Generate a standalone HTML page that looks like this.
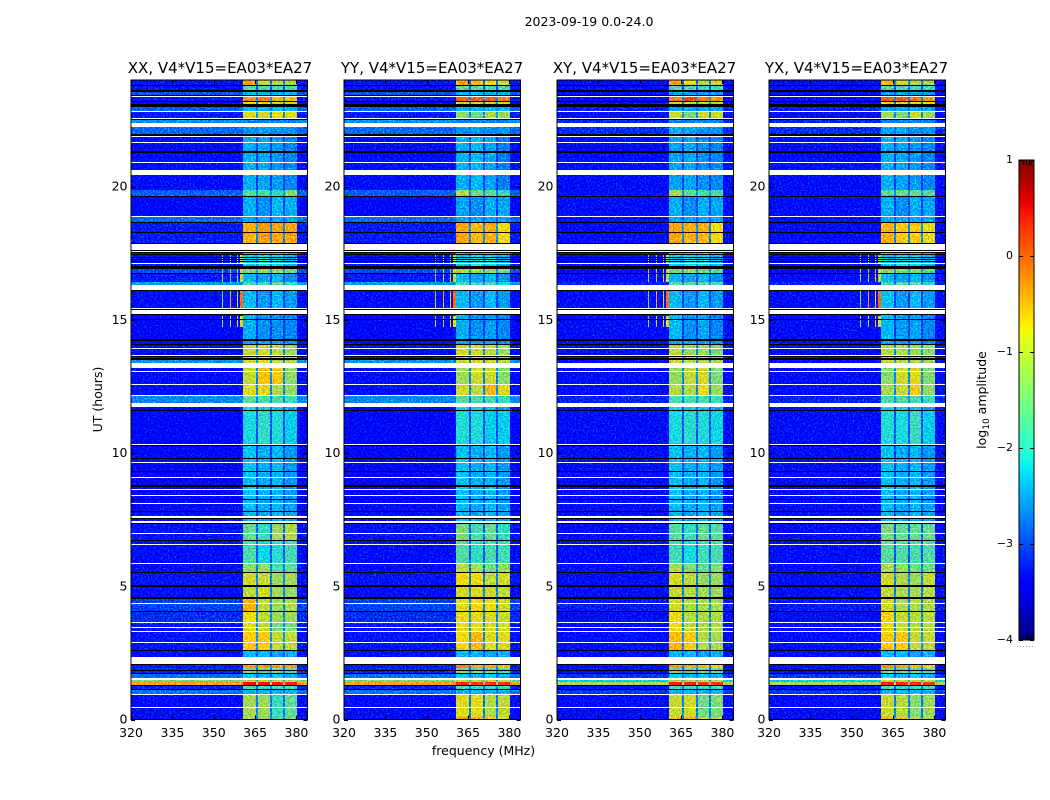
<!DOCTYPE html>
<html lang="en">
<head>
<meta charset="utf-8">
<title>2023-09-19 0.0-24.0</title>
<style>
html,body{margin:0;padding:0;background:#fff;width:1050px;height:800px;overflow:hidden}
svg{display:block}
text{font-family:"DejaVu Sans","Liberation Sans",sans-serif;fill:#000}
</style>
</head>
<body>
<svg id="figure" xmlns="http://www.w3.org/2000/svg" width="1050" height="800" viewBox="0 0 1050 800">
  <defs>
    <filter id="speckle" x="0" y="0" width="1" height="1" color-interpolation-filters="sRGB">
      <feTurbulence type="fractalNoise" baseFrequency="0.6" numOctaves="2" seed="4" result="n"/>
      <feColorMatrix in="n" type="matrix" values="0 0 0 0 0.5  2.2 0 0 0 -0.84  0 1.2 0 0 -0.1  0 0 0 0 1" result="m"/>
      <feComposite in="SourceGraphic" in2="m" operator="arithmetic" k1="0" k2="1" k3="0.6" k4="-0.3"/>
    </filter>
    <linearGradient id="jet-gradient" x1="0" y1="1" x2="0" y2="0"></linearGradient>
  </defs>
  <rect width="1050" height="800" fill="#fff"/>
  <text x="589" y="26" font-size="12.5" text-anchor="middle">2023-09-19 0.0-24.0</text>
  <text x="483.5" y="755" font-size="12.5" text-anchor="middle">frequency (MHz)</text>
  <text transform="translate(102 399.5) rotate(-90)" font-size="12.5" text-anchor="middle">UT (hours)</text>
  <text transform="translate(986 400) rotate(-90)" font-size="12.5" text-anchor="middle">log<tspan font-size="9" dy="3">10</tspan><tspan dy="-3"> amplitude</tspan></text>
  <g id="panels"></g>
  <g id="colorbar"></g>
</svg>
<script>
// Chart data. Times are UT hours, frequencies MHz, levels log10 amplitude.
const panelTitles = ['XX, V4*V15=EA03*EA27', 'YY, V4*V15=EA03*EA27', 'XY, V4*V15=EA03*EA27', 'YX, V4*V15=EA03*EA27'];
const freqTicks = [320, 335, 350, 365, 380];
const timeTicks = [0, 5, 10, 15, 20];
const colorbarTicks = [1, 0, -1, -2, -3, -4];
const bandStart = [360.6, 366.0, 371.1, 375.8];
const bandEnd = [365.3, 370.4, 375.1, 380.1];
const eraEdges = [24.00,23.80,23.60,23.42,23.20,23.00,22.83,22.54,22.22,21.98,19.87,19.62,18.86,18.62,17.85,17.00,16.75,16.43,16.12,15.46,14.19,14.05,13.65,13.49,13.19,12.59,12.14,11.89,11.58,10.30,8.00,7.34,6.70,5.85,5.55,5.00,4.55,4.04,3.60,3.30,2.61,2.36,2.14,1.95,1.70,1.54,1.41,1.31,1.11,0.96,0.10,0];
const parallelBackground = [-3.15,-3.15,-2.8,-3.15,-3.25,-2.75,-3.1,-2.5,-2.7,-3.2,-2.75,-3.25,-2.7,-3.1,-3.15,-2.85,-3.1,-2.45,-3.2,-3.25,-3.25,-3.2,-3.2,-2.5,-3.2,-3.2,-2.55,-3.25,-3.25,-3.25,-3.2,-3.15,-3.2,-3.2,-3.15,-3.2,-2.9,-3.0,-3.15,-3.15,-3.2,-3.05,-3.1,-3.05,-2.65,-1.6,-0.5,-3.05,-2.65,-3.2,-3.2];
const crossBackground = [-3.2,-3.2,-3.2,-3.2,-3.2,-3.05,-3.2,-3.05,-3.0,-3.2,-3.2,-3.2,-3.2,-3.2,-3.2,-3.2,-3.2,-3.05,-3.2,-3.2,-3.2,-3.2,-3.2,-3.2,-3.2,-3.2,-3.05,-3.2,-3.2,-3.2,-3.2,-3.2,-3.2,-3.2,-3.2,-3.2,-3.1,-3.2,-3.2,-3.2,-3.2,-3.2,-3.2,-3.2,-2.95,-2.2,-1.2,-3.2,-2.95,-3.2,-3.2];
const gapLevels = [-2.6,-2.8,-2.7,-2.5,-2.6,-2.6,-2.5,-2.6,-2.6,-2.9,-2.5,-2.9,-2.7,-2.5,-2.5,-2.4,-2.85,-2.5,-2.9,-2.9,-2.9,-2.5,-2.5,-2.5,-2.55,-2.55,-2.5,-2.85,-2.8,-2.9,-2.9,-2.75,-2.8,-2.6,-2.55,-2.55,-2.55,-2.55,-2.55,-2.5,-2.8,-2.7,-2.4,-2.6,-2.7,-2.2,-1.2,-2.6,-2.7,-2.6,-2.5];
const xxSignal = [
[-0.5,-1.1,-1.2,-1.3],[-1.7,-1.8,-1.8,-1.8],[-2.3,-2.3,-2.3,-2.3],[-0.4,-0.3,-0.6,-0.6],[-0.8,-0.8,-0.9,-0.9],[-2.3,-2.3,-2.3,-2.3],[-0.9,-1.0,-0.8,-0.9],[-2.55,-2.55,-2.55,-2.55],[-2.5,-2.45,-2.5,-2.5],[-2.35,-2.4,-2.45,-2.55],
[-1.8,-1.8,-2.0,-1.5],[-2.35,-2.5,-2.3,-2.35],[-2.4,-2.4,-2.4,-2.4],[-0.55,-0.45,-0.5,-0.5],[-2.2,-2.0,-2.1,-2.3],[-1.5,-1.3,-1.3,-1.6],[-2.3,-2.4,-2.3,-2.5],[-1.9,-1.9,-1.6,-2.0],[-2.3,-2.45,-2.3,-2.45],[-2.35,-2.5,-2.5,-2.55],
[-2.4,-2.4,-2.4,-2.5],[-1.1,-1.0,-1.1,-1.3],[-0.9,-0.85,-1.05,-1.2],[-1.0,-0.9,-1.0,-1.1],[-1.1,-0.65,-0.7,-1.4],[-0.9,-0.85,-1.2,-1.35],[-1.7,-1.8,-1.8,-1.9],[-2.15,-2.2,-2.25,-2.4],[-2.1,-1.95,-2.05,-2.2],[-2.25,-2.35,-2.3,-2.45],
[-2.3,-2.4,-2.3,-2.4],[-1.65,-1.9,-1.3,-1.2],[-1.8,-2.15,-2.0,-1.85],[-1.35,-1.3,-1.75,-1.6],[-1.0,-1.05,-1.3,-1.25],[-1.1,-1.0,-1.25,-1.35],[-0.55,-1.1,-1.3,-1.2],[-0.8,-1.1,-1.3,-1.3],[-0.9,-1.1,-1.45,-1.5],[-0.7,-0.7,-1.05,-1.05],
[-2.3,-2.3,-2.4,-2.35],[-2.3,-2.3,-2.3,-2.3],[-0.4,-0.4,-0.45,-0.45],[-1.5,-1.6,-1.6,-1.7],[-2.2,-2.3,-2.2,-2.3],[-1.2,-1.2,-1.2,-1.2],[0.45,0.35,0.25,0.25],[-1.8,-1.9,-1.9,-1.9],[-2.3,-2.3,-2.3,-2.3],[-1.25,-1.3,-1.9,-1.65],[-1.2,-1.3,-1.8,-1.6]];
const yySignal = [
[-0.5,-0.6,-0.8,-1.0],[-1.7,-1.7,-1.8,-1.8],[-2.3,-2.3,-2.3,-2.3],[-0.1,-0.1,-0.1,-0.3],[-1.0,-1.0,-1.0,-1.0],[-2.3,-2.3,-2.3,-2.3],[-1.4,-1.6,-1.2,-1.3],[-2.55,-2.55,-2.55,-2.55],[-2.5,-2.45,-2.5,-2.5],[-2.35,-2.3,-2.4,-2.6],
[-1.2,-1.6,-1.7,-1.9],[-2.4,-2.5,-2.35,-2.4],[-2.4,-2.4,-2.4,-2.4],[-0.5,-0.6,-0.55,-0.8],[-2.2,-2.0,-2.1,-2.3],[-1.2,-1.2,-1.3,-1.5],[-2.3,-2.4,-2.3,-2.5],[-1.8,-2.0,-1.8,-2.1],[-2.3,-2.45,-2.3,-2.45],[-2.35,-2.5,-2.45,-2.55],
[-2.4,-2.4,-2.4,-2.5],[-1.0,-1.0,-1.1,-1.3],[-1.1,-0.9,-1.0,-1.3],[-1.0,-0.9,-1.0,-1.1],[-1.3,-1.0,-1.0,-1.4],[-1.0,-1.1,-0.6,-0.9],[-1.7,-1.8,-1.8,-1.9],[-2.15,-2.2,-2.25,-2.4],[-2.05,-2.05,-2.2,-2.2],[-2.25,-2.35,-2.3,-2.45],
[-2.3,-2.4,-2.3,-2.4],[-1.5,-1.8,-1.6,-1.9],[-1.75,-1.95,-1.8,-1.85],[-1.1,-1.2,-1.5,-1.3],[-0.8,-0.8,-1.1,-1.0],[-0.95,-0.9,-1.0,-1.1],[-0.9,-0.75,-0.8,-1.0],[-0.85,-0.85,-0.9,-1.05],[-0.85,-0.85,-0.95,-1.0],[-0.8,-0.6,-0.9,-0.9],
[-2.3,-2.3,-2.4,-2.35],[-2.3,-2.3,-2.3,-2.3],[-0.3,-0.5,-0.5,-0.6],[-1.5,-1.6,-1.6,-1.7],[-2.2,-2.3,-2.2,-2.3],[-1.2,-1.2,-1.2,-1.2],[0.2,0.1,0.1,0.1],[-1.8,-1.9,-1.9,-1.9],[-2.3,-2.3,-2.3,-2.3],[-0.9,-0.85,-1.2,-1.1],[-0.5,-0.5,-0.7,-0.9]];
const xySignal = [
[-0.5,-0.8,-1.2,-1.0],[-1.8,-1.8,-1.9,-1.9],[-2.4,-2.4,-2.4,-2.4],[-0.3,0.0,-0.3,-0.4],[-1.0,-1.0,-1.0,-1.0],[-2.4,-2.4,-2.4,-2.4],[-1.0,-1.5,-1.0,-1.0],[-2.55,-2.55,-2.55,-2.55],[-2.35,-2.4,-2.5,-2.5],[-2.4,-2.4,-2.5,-2.55],
[-1.3,-1.7,-1.8,-1.8],[-2.35,-2.5,-2.35,-2.4],[-2.4,-2.4,-2.4,-2.4],[-0.5,-0.55,-0.55,-0.8],[-2.2,-2.1,-2.1,-2.3],[-1.5,-1.3,-1.5,-1.7],[-2.3,-2.4,-2.3,-2.5],[-1.7,-1.7,-1.7,-1.9],[-2.3,-2.45,-2.3,-2.45],[-2.3,-2.5,-2.4,-2.55],
[-2.4,-2.4,-2.4,-2.5],[-1.1,-1.3,-1.3,-1.5],[-0.95,-1.2,-1.2,-1.4],[-1.0,-1.1,-1.1,-1.2],[-1.35,-1.1,-0.95,-1.5],[-1.15,-1.15,-0.8,-1.3],[-1.8,-1.8,-1.8,-1.9],[-2.15,-2.2,-2.25,-2.4],[-2.1,-2.0,-2.05,-2.15],[-2.25,-2.35,-2.3,-2.45],
[-2.3,-2.4,-2.3,-2.4],[-1.7,-1.9,-1.6,-1.7],[-1.85,-2.1,-1.85,-1.8],[-1.2,-1.4,-1.6,-1.4],[-0.95,-1.1,-1.35,-1.3],[-1.05,-1.15,-1.25,-1.3],[-1.0,-1.2,-1.25,-1.25],[-0.8,-1.15,-1.2,-1.2],[-0.8,-1.1,-1.2,-1.2],[-0.6,-0.7,-1.15,-1.2],
[-2.3,-2.3,-2.4,-2.35],[-2.3,-2.3,-2.3,-2.3],[-0.4,-0.5,-0.6,-0.7],[-1.5,-1.6,-1.6,-1.7],[-2.2,-2.3,-2.2,-2.3],[-1.2,-1.2,-1.2,-1.2],[0.3,0.2,0.1,0.1],[-1.8,-1.9,-1.9,-1.9],[-2.3,-2.3,-2.3,-2.3],[-1.05,-1.0,-1.55,-1.45],[-0.6,-0.6,-1.0,-1.2]];
const yxSignal = [
[-0.6,-1.0,-1.2,-1.3],[-1.8,-1.8,-1.9,-1.9],[-2.4,-2.4,-2.4,-2.4],[-0.1,-0.1,-0.2,-0.4],[-0.9,-0.9,-0.9,-0.9],[-2.4,-2.4,-2.4,-2.4],[-1.3,-1.5,-1.0,-1.3],[-2.55,-2.55,-2.55,-2.55],[-2.4,-2.4,-2.5,-2.5],[-2.35,-2.4,-2.45,-2.55],
[-1.7,-1.6,-1.6,-1.75],[-2.35,-2.5,-2.35,-2.4],[-2.4,-2.4,-2.4,-2.4],[-0.55,-0.7,-0.7,-0.85],[-2.2,-2.1,-2.1,-2.3],[-1.4,-1.4,-1.4,-1.7],[-2.3,-2.4,-2.3,-2.5],[-1.8,-1.7,-1.7,-2.0],[-2.25,-2.45,-2.3,-2.45],[-2.3,-2.45,-2.4,-2.55],
[-2.4,-2.4,-2.4,-2.5],[-1.2,-1.2,-1.3,-1.4],[-0.95,-1.2,-1.2,-1.4],[-1.0,-1.1,-1.1,-1.2],[-1.4,-1.0,-0.9,-1.45],[-1.25,-1.05,-0.7,-1.35],[-1.8,-1.8,-1.8,-1.9],[-2.15,-2.2,-2.25,-2.4],[-2.05,-2.1,-1.9,-2.2],[-2.25,-2.35,-2.3,-2.45],
[-2.3,-2.4,-2.3,-2.4],[-1.55,-1.6,-1.6,-1.6],[-1.7,-1.75,-1.8,-1.75],[-1.2,-1.3,-1.5,-1.5],[-1.0,-1.2,-1.3,-1.05],[-1.1,-1.2,-1.25,-1.15],[-1.0,-1.2,-1.2,-1.2],[-0.75,-1.05,-1.15,-1.1],[-0.85,-1.05,-1.15,-1.15],[-0.7,-0.7,-1.05,-1.05],
[-2.3,-2.3,-2.4,-2.35],[-2.3,-2.3,-2.3,-2.3],[-0.4,-0.5,-0.6,-0.7],[-1.5,-1.6,-1.6,-1.7],[-2.2,-2.3,-2.2,-2.3],[-1.2,-1.2,-1.2,-1.2],[0.2,0.15,0.1,0.1],[-1.8,-1.9,-1.9,-1.9],[-2.3,-2.3,-2.3,-2.3],[-1.05,-1.15,-1.45,-1.3],[-0.6,-0.6,-1.1,-1.2]];
const rfiFreqStart = [353.0, 355.8, 358.5, 359.5];
const rfiFreqEnd = [353.4, 356.2, 358.9, 360.5];
const rfiTimeStart = [17.43, 16.90, 16.08, 15.14];
const rfiTimeEnd = [17.12, 16.43, 15.44, 14.72];
const rfiLevels = [[-1.5,-1.3,-1.3,-1.1],[-1.2,-1.1,-1.2,-1.0],[-1.5,-0.5,-0.9,-0.2],[-1.3,-1.1,-0.9,-0.8]];
const whiteFlags = [[23.39,23.36],[22.85,22.81],[22.57,22.54],[22.40,22.22],[21.90,21.86],[21.67,21.63],[20.92,20.89],[20.62,20.42],[18.90,18.86],[17.83,17.62],[17.58,17.55],[17.12,17.08],[16.30,16.17],[16.15,16.12],[15.46,15.42],[15.38,15.22],[13.96,13.92],[13.68,13.65],[13.39,13.19],[13.08,13.04],[12.59,12.56],[12.18,12.14],[11.89,11.74],[10.35,10.32],[9.68,9.64],[9.09,9.06],[8.65,8.61],[8.41,8.39],[8.14,8.10],[7.65,7.56],[7.44,7.39],[7.01,6.98],[6.59,6.55],[5.89,5.85],[4.36,4.33],[3.65,3.61],[3.49,3.45],[3.34,3.30],[2.90,2.86],[2.36,2.16],[2.14,2.10],[1.54,1.49],[0.95,0.91],[0.48,0.44]];
const blackFlags = [[23.81,23.77],[23.63,23.56],[23.45,23.41],[23.21,23.17],[23.10,23.00],[22.54,22.50],[21.97,21.91],[21.35,21.27],[19.65,19.61],[18.66,18.62],[18.31,18.27],[17.87,17.83],[17.62,17.58],[17.55,17.50],[17.47,17.44],[17.37,17.33],[17.27,17.24],[17.22,17.17],[17.02,16.92],[16.74,16.71],[16.11,16.07],[15.42,15.38],[15.22,15.17],[15.04,14.99],[14.27,14.19],[14.09,14.04],[13.65,13.60],[13.55,13.49],[11.62,11.58],[10.29,10.25],[9.81,9.77],[9.31,9.27],[8.80,8.74],[8.26,8.23],[7.84,7.79],[7.56,7.51],[7.39,7.34],[6.74,6.70],[5.55,5.50],[5.04,4.99],[4.58,4.51],[4.09,4.03],[2.61,2.56],[2.07,2.03],[1.86,1.83],[1.74,1.70],[1.28,1.24],[1.16,1.13]];

const signals = [xxSignal, yySignal, xySignal, yxSignal];
const backgrounds = [parallelBackground, parallelBackground, crossBackground, crossBackground];

// Layout and axis functions
const panelLefts = [131, 344, 557, 769];
const titleCenters = [220, 432, 644.5, 856.5];
const panelWidth = 176.5;
const plotTop = 80;
const plotBottom = 719.5;
const freqMin = 320, freqMax = 384, timeMin = 0, timeMax = 24;
const cbLeft = 1019, cbWidth = 15, cbTop = 160, cbBottom = 640, levelMin = -4, levelMax = 1;
const SVGNS = 'http://www.w3.org/2000/svg';
function xScale(panel, f) { return panelLefts[panel] + (f - freqMin) / (freqMax - freqMin) * panelWidth; }
function yScale(t) { return plotBottom - (t - timeMin) / (timeMax - timeMin) * (plotBottom - plotTop); }
function cbScale(v) { return cbBottom - (v - levelMin) / (levelMax - levelMin) * (cbBottom - cbTop); }
function clamp01(v) { return Math.max(0, Math.min(1, v)); }
function jet(f) {
  const r = f < 0.35 ? 0 : f < 0.66 ? (f - 0.35) / 0.31 : f < 0.89 ? 1 : 1 - (f - 0.89) / 0.11 * 0.5;
  const g = f < 0.125 ? 0 : f < 0.375 ? (f - 0.125) / 0.25 : f < 0.64 ? 1 : f < 0.91 ? 1 - (f - 0.64) / 0.27 : 0;
  const b = f < 0.11 ? 0.5 + f / 0.11 * 0.5 : f < 0.34 ? 1 : f < 0.65 ? 1 - (f - 0.34) / 0.31 : 0;
  return 'rgb(' + Math.round(clamp01(r) * 255) + ',' + Math.round(clamp01(g) * 255) + ',' + Math.round(clamp01(b) * 255) + ')';
}
function levelColor(v) { return jet(clamp01((v - levelMin) / (levelMax - levelMin))); }
function makeRect(parent, x, y, w, h, fill) {
  const el = document.createElementNS(SVGNS, 'rect');
  const x0 = Math.round(x), y0 = Math.round(y);
  el.setAttribute('x', x0);
  el.setAttribute('y', y0);
  el.setAttribute('width', Math.max(Math.round(x + w) - x0, 1));
  el.setAttribute('height', Math.max(Math.round(y + h) - y0, 1));
  el.setAttribute('fill', fill);
  el.setAttribute('shape-rendering', 'crispEdges');
  parent.appendChild(el);
  return el;
}
function makeGroup(parent) {
  const el = document.createElementNS(SVGNS, 'g');
  parent.appendChild(el);
  return el;
}
function makeLine(parent, x1, y1, x2, y2) {
  const el = document.createElementNS(SVGNS, 'line');
  el.setAttribute('x1', x1);
  el.setAttribute('y1', y1);
  el.setAttribute('x2', x2);
  el.setAttribute('y2', y2);
  el.setAttribute('stroke', '#000');
  el.setAttribute('stroke-width', '1');
  el.setAttribute('shape-rendering', 'crispEdges');
  parent.appendChild(el);
  return el;
}
function makeText(parent, x, y, anchor, size, content) {
  const el = document.createElementNS(SVGNS, 'text');
  el.setAttribute('x', x);
  el.setAttribute('y', y);
  el.setAttribute('text-anchor', anchor);
  el.setAttribute('font-size', size);
  el.textContent = content;
  parent.appendChild(el);
  return el;
}

const panelsRoot = document.getElementById('panels');
panelTitles.forEach(function (title, p) {
  const panel = makeGroup(panelsRoot);
  
  

  const heat = makeGroup(panel);
  
  
  heat.setAttribute('filter', 'url(#speckle)');

  eraEdges.slice(0, -1).forEach(function (top, e) {
    const yTop = yScale(top);
    const h = yScale(eraEdges[e + 1]) - yTop;
    const columns = [[freqMin, bandStart[0], backgrounds[p][e]]];
    bandStart.forEach(function (start, b) {
      columns.push([start, bandEnd[b], signals[p][e][b]]);
      if (b < bandStart.length - 1) {
        columns.push([bandEnd[b], bandStart[b + 1], gapLevels[e]]);
      }
    });
    columns.push([bandEnd[bandEnd.length - 1], freqMax, backgrounds[p][e]]);
    columns.forEach(function (c) {
      const x0 = xScale(p, c[0]);
      const cell = makeRect(heat, x0, yTop, xScale(p, c[1]) - x0, h, levelColor(c[2]));
      
      
    });
  });

  rfiTimeStart.forEach(function (start, r) {
    rfiFreqStart.forEach(function (f, k) {
      const x0 = xScale(p, f);
      const y0 = yScale(start);
      const line = makeRect(heat, x0, y0, xScale(p, rfiFreqEnd[k]) - x0, yScale(rfiTimeEnd[r]) - y0, levelColor(rfiLevels[r][k]));
      
      
    });
  });

  const flags = makeGroup(panel);
  
  
  whiteFlags.forEach(function (w) {
    const y0 = yScale(w[0]);
    const row = makeRect(flags, panelLefts[p], y0, panelWidth, yScale(w[1]) - y0, '#fff');
    
    
  });
  blackFlags.forEach(function (k) {
    const y0 = yScale(k[0]);
    const row = makeRect(flags, panelLefts[p], y0, panelWidth, yScale(k[1]) - y0, '#000');
    
    
  });

  const frame = document.createElementNS(SVGNS, 'rect');
  frame.setAttribute('x', panelLefts[p]);
  frame.setAttribute('y', plotTop);
  frame.setAttribute('width', panelWidth);
  frame.setAttribute('height', plotBottom - plotTop);
  frame.setAttribute('fill', 'none');
  frame.setAttribute('stroke', '#000');
  frame.setAttribute('stroke-width', '1');
  
  
  panel.appendChild(frame);

  freqTicks.forEach(function (f) {
    const x = Math.round(xScale(p, f)) + 0.5;
    const t1 = makeLine(panel, x, plotBottom, x, plotBottom - 4);
    
    
    const t2 = makeLine(panel, x, plotTop, x, plotTop + 4);
    
    
    const lab = makeText(panel, xScale(p, f), 737, 'middle', 12.5, String(f));
    
    
  });
  timeTicks.forEach(function (t) {
    const y = Math.round(yScale(t)) + 0.5;
    const left = panelLefts[p];
    const t1 = makeLine(panel, left, y, left + 4, y);
    
    
    const t2 = makeLine(panel, left + panelWidth, y, left + panelWidth - 4, y);
    
    
    const lab = makeText(panel, left - 3.5, yScale(t) + 4, 'end', 12.5, String(t));
    
    
  });
  const heading = makeText(panel, titleCenters[p], 73, 'middle', 15, title);
  
  
});

// Colorbar
const gradient = document.getElementById('jet-gradient');
for (let i = 0; i <= 50; i++) {
  const stop = document.createElementNS(SVGNS, 'stop');
  stop.setAttribute('offset', (i * 2) + '%');
  stop.setAttribute('stop-color', jet(i / 50));
  gradient.appendChild(stop);
}
const cbRoot = document.getElementById('colorbar');
const cbBar = makeRect(cbRoot, cbLeft, cbTop, cbWidth, cbBottom - cbTop, 'url(#jet-gradient)');


const cbFrame = document.createElementNS(SVGNS, 'rect');
cbFrame.setAttribute('x', cbLeft);
cbFrame.setAttribute('y', cbTop);
cbFrame.setAttribute('width', cbWidth);
cbFrame.setAttribute('height', cbBottom - cbTop);
cbFrame.setAttribute('fill', 'none');
cbFrame.setAttribute('stroke', '#000');
cbFrame.setAttribute('stroke-width', '1');


cbRoot.appendChild(cbFrame);
colorbarTicks.forEach(function (v) {
  const y = Math.round(cbScale(v)) + 0.5;
  const left = makeLine(cbRoot, cbLeft, y, cbLeft + 4, y);
  
  
  const right = makeLine(cbRoot, cbLeft + cbWidth, y, cbLeft + cbWidth - 4, y);
  
  
  const lab = makeText(cbRoot, cbLeft - 6, cbScale(v) + 3, 'end', 11, (v < 0 ? '\u2212' + Math.abs(v) : String(v)));
  
  
});
[1023, 1026, 1029, 1031].forEach(function (x) {
  const top = makeLine(cbRoot, x + 0.5, cbTop, x + 0.5, cbTop + 5);
  
  
  const bottom = makeLine(cbRoot, x + 0.5, cbBottom, x + 0.5, cbBottom - 5);
  
  
});
const cbDots = makeLine(cbRoot, 1017, 646.5, 1035, 646.5);
cbDots.setAttribute('stroke', '#999');
cbDots.setAttribute('stroke-dasharray', '1 2');


</script>
</body>
</html>
